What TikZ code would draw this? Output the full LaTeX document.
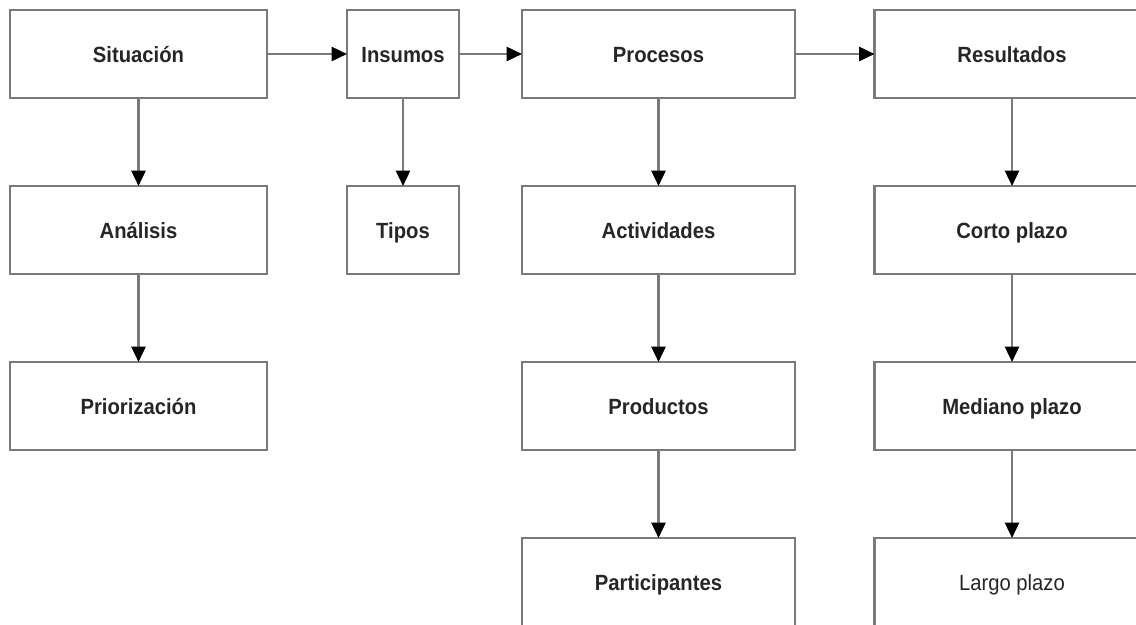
\documentclass[tikz,border=0pt]{standalone}
\usepackage{fontspec}
\setmainfont{Liberation Sans}[FakeStretch=0.92]
\usetikzlibrary{arrows.meta}
\definecolor{edgegray}{HTML}{7A7A7A}
\definecolor{txt}{HTML}{262626}
\tikzset{
  px/.style={x=0.75pt,y=-0.75pt},
  box/.style={draw=edgegray,line width=1.9pt,fill=white,rectangle,outer sep=0pt,inner sep=0pt,
    text=txt,text height=12.5pt,text depth=0.5pt,font=\fontsize{16.5}{19}\selectfont\bfseries},
  plain/.style={font=\fontsize{16.5}{19}\selectfont},
  wide/.style={minimum width=192.75pt,minimum height=66pt},
  mid/.style={minimum width=204.75pt,minimum height=66pt},
  narrow/.style={minimum width=84pt,minimum height=66pt},
  rwide/.style={minimum width=206.25pt,minimum height=66pt},
  conn/.style={draw=edgegray,line width=1.9pt,-{Triangle[length=11.5pt,width=10.5pt,color=black]}}
}
\begin{document}
\begin{tikzpicture}[px]
\useasboundingbox (0,0) rectangle (1136,625);
\clip (0,0) rectangle (1136,625);
% column 1
\node[box,wide] (sit) at (138.5,54) {Situación};
\node[box,wide] (ana) at (138.5,230) {Análisis};
\node[box,wide] (pri) at (138.5,406) {Priorización};
% column 2
\node[box,narrow] (ins) at (403,54) {Insumos};
\node[box,narrow] (tip) at (403,230) {Tipos};
% column 3
\node[box,mid] (pro) at (658.5,54) {Procesos};
\node[box,mid] (act) at (658.5,230) {Actividades};
\node[box,mid] (prd) at (658.5,406) {Productos};
\node[box,mid] (par) at (658.5,582) {Participantes};
% column 4
\node[box,rwide] (res) at (1012,54) {Resultados};
\node[box,rwide] (cor) at (1012,230) {Corto plazo};
\node[box,rwide] (med) at (1012,406) {Mediano plazo};
\node[box,rwide,plain] (lar) at (1012,582) {Largo plazo};
% connectors
\draw[conn] (sit) -- (ins);
\draw[conn] (ins) -- (pro);
\draw[conn] (pro) -- (res);
\draw[conn] (sit) -- (ana);
\draw[conn] (ana) -- (pri);
\draw[conn] (ins) -- (tip);
\draw[conn] (pro) -- (act);
\draw[conn] (act) -- (prd);
\draw[conn] (prd) -- (par);
\draw[conn] (res) -- (cor);
\draw[conn] (cor) -- (med);
\draw[conn] (med) -- (lar);
\end{tikzpicture}
\end{document}
